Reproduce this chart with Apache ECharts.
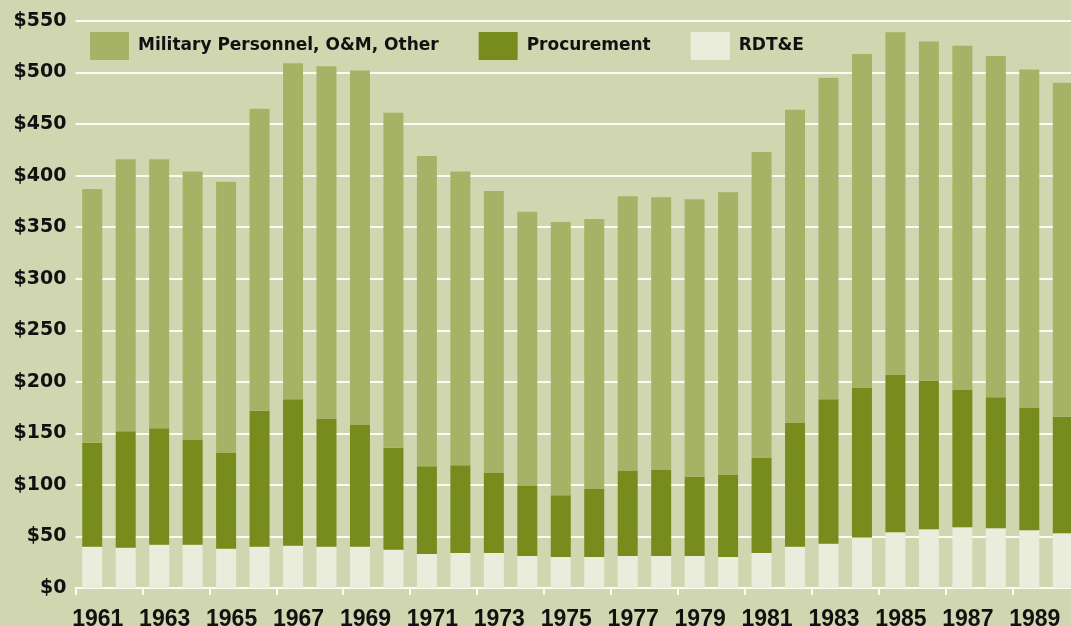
<!DOCTYPE html>
<html>
<head>
<meta charset="utf-8">
<script src="https://cdn.jsdelivr.net/npm/echarts@6/dist/echarts.min.js"></script>
<style>
  html, body { margin: 0; padding: 0; background: #d0d7b0; }
  #chart { width: 1071px; height: 626px; }
</style>
</head>
<body>
<div id="chart"></div>
<script>
var years = ['1961', '1962', '1963', '1964', '1965', '1966', '1967', '1968', '1969', '1970',
             '1971', '1972', '1973', '1974', '1975', '1976', '1977', '1978', '1979', '1980',
             '1981', '1982', '1983', '1984', '1985', '1986', '1987', '1988', '1989', '1990'];

// billions of dollars
var rdte = [40, 39, 42, 42, 38, 40, 41, 40, 40, 37,
            33, 34, 34, 31, 30, 30, 31, 31, 31, 30,
            34, 40, 43, 49, 54, 57, 59, 58, 56, 53];
var procurement = [101, 113, 113, 102, 93, 132, 142, 124, 118, 99,
                   85, 85, 78, 68, 60, 66, 83, 84, 77, 80,
                   92, 120, 140, 145, 153, 144, 133, 127, 119, 113];
var milPersonnel = [246, 264, 261, 260, 263, 293, 326, 342, 344, 325,
                    301, 285, 273, 266, 265, 262, 266, 264, 269, 274,
                    297, 304, 312, 324, 332, 329, 334, 331, 328, 324];

var labelFont = 'DejaVu Sans';

var chart = echarts.init(document.getElementById('chart'));
var option = {
    backgroundColor: '#d0d7b0',
    animation: false,
    legend: {
        data: ['Military Personnel, O&M, Other', 'Procurement', 'RDT&E'],
        left: 90,
        top: 32,
        padding: 0,
        itemWidth: 39,
        itemHeight: 28,
        itemGap: 40,
        icon: 'rect',
        textStyle: {
            fontFamily: labelFont,
            fontWeight: 'bold',
            fontSize: 17,
            color: '#111',
            padding: [0, 0, 0, 4]
        }
    },
    grid: {
        left: 75.5,
        top: 21,
        bottom: 38,
        width: 1004,
        outerBoundsMode: 'none'
    },
    xAxis: {
        type: 'category',
        data: years,
        axisLine: { lineStyle: { color: '#fbfbf2', width: 2 } },
        axisTick: { show: true, length: 7, lineStyle: { color: '#fbfbf2', width: 2 } },
        axisLabel: {
            interval: 1,
            margin: 20,
            padding: [0, 0, 0, 11],
            fontFamily: 'Liberation Sans',
            fontWeight: 'bold',
            fontSize: 23,
            color: '#111'
        }
    },
    yAxis: {
        type: 'value',
        min: 0,
        max: 550,
        interval: 50,
        axisLine: { show: false },
        axisTick: { show: false },
        splitLine: { lineStyle: { color: '#fbfbf2', width: 2 } },
        axisLabel: {
            margin: 9,
            fontFamily: labelFont,
            fontWeight: 'bold',
            fontSize: 19,
            color: '#111',
            formatter: function (v) { return '$' + v; }
        }
    },
    series: [
        {
            name: 'RDT&E',
            type: 'bar',
            stack: 'total',
            barWidth: 20,
            itemStyle: { color: '#eaecdc' },
            data: rdte
        },
        {
            name: 'Procurement',
            type: 'bar',
            stack: 'total',
            barWidth: 20,
            itemStyle: { color: '#788c1e' },
            data: procurement
        },
        {
            name: 'Military Personnel, O&M, Other',
            type: 'bar',
            stack: 'total',
            barWidth: 20,
            itemStyle: { color: '#a6b265' },
            data: milPersonnel
        }
    ]
};
chart.setOption(option);
</script>
</body>
</html>
